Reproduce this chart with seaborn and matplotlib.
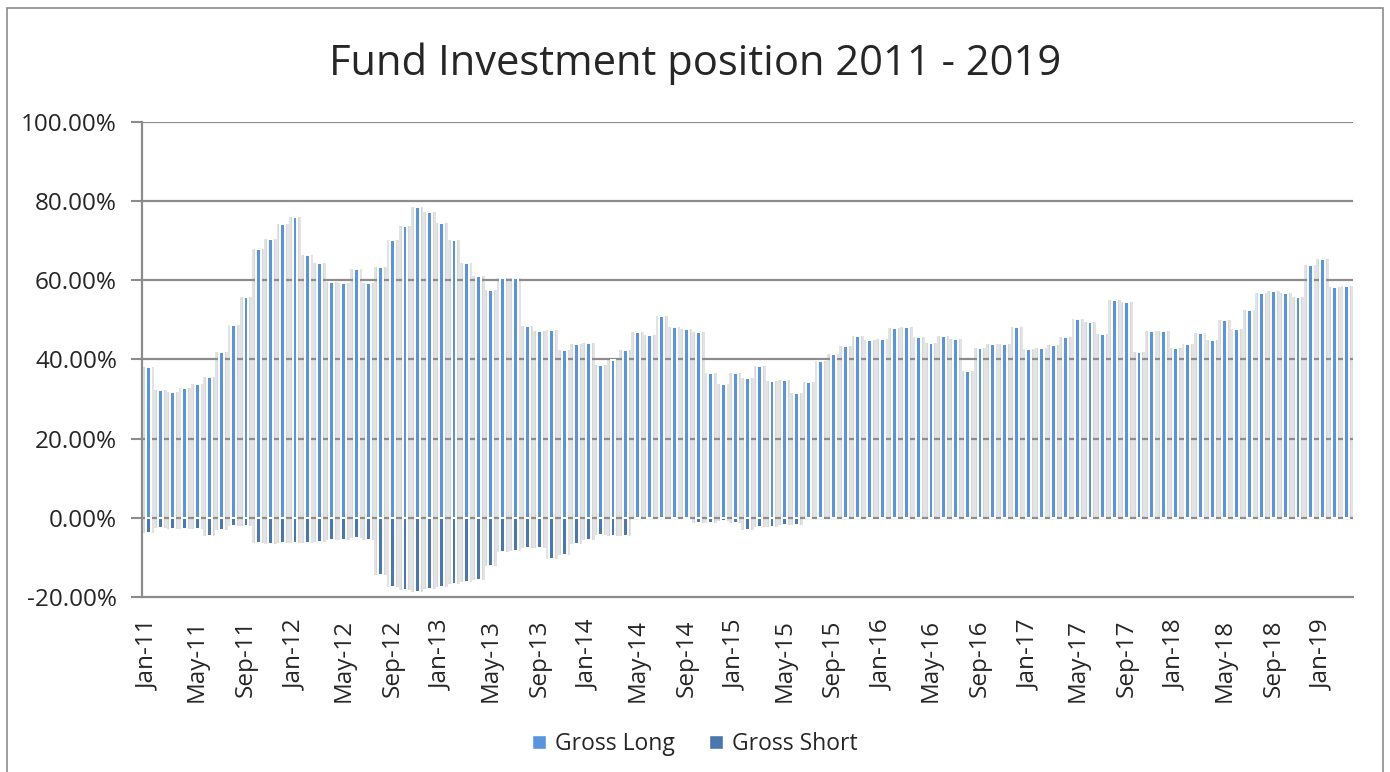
import numpy as np
import pandas as pd
import matplotlib
matplotlib.use('Agg')
import matplotlib.pyplot as plt
import seaborn as sns
from matplotlib.patches import Patch, Rectangle

# monthly data Jan-11 .. Mar-19 (in %)
months = pd.date_range('2011-01-01', '2019-03-01', freq='MS').strftime('%b-%y').tolist()

gross_long = [38.0, 32.3, 31.8, 32.7, 33.9, 35.6, 41.9, 48.7, 55.9, 67.8,
              70.5, 74.1, 75.9, 66.3, 64.4, 59.6, 59.2, 62.8, 59.2, 63.4,
              70.1, 73.6, 78.4, 77.3, 74.6, 70.1, 64.5, 61.0, 57.5, 60.7,
              60.7, 48.5, 47.3, 47.5, 42.5, 43.9, 44.1, 38.7, 39.8, 42.3,
              46.9, 46.3, 51.1, 48.3, 47.8, 46.9, 36.7, 33.8, 36.6, 35.4,
              38.3, 34.5, 34.9, 31.5, 34.3, 39.6, 41.4, 43.5, 45.9, 45.0,
              45.2, 47.9, 48.3, 45.7, 44.1, 46.0, 45.3, 37.2, 42.9, 43.9,
              44.0, 48.2, 42.6, 42.9, 43.7, 45.6, 50.3, 49.4, 46.5, 55.1,
              54.6, 41.8, 47.3, 47.2, 42.8, 43.8, 46.8, 45.0, 50.1, 47.7,
              52.5, 56.9, 57.3, 56.9, 55.9, 63.8, 65.4, 58.2, 58.6]

gross_short = [-3.8, -2.5, -2.8, -2.8, -2.7, -4.7, -3.2, -2.0, -2.1, -6.3,
               -6.6, -6.3, -6.3, -6.3, -6.1, -5.7, -5.6, -5.0, -5.6, -14.4,
               -17.4, -18.2, -18.8, -17.9, -17.5, -16.8, -16.3, -15.8, -12.2, -8.7,
               -8.4, -7.7, -7.7, -10.5, -9.5, -6.6, -5.5, -4.3, -4.5, -4.5,
               0.0, 0.0, 0.0, 0.0, -0.4, -1.3, -1.2, -0.7, -1.3, -3.0,
               -2.2, -2.2, -1.9, -1.8, 0.0, 0.0, 0.0, 0.0, 0.0, 0.0,
               0.0, 0.0, 0.0, 0.0, 0.0, 0.0, 0.0, 0.0, 0.0, 0.0,
               0.0, 0.0, 0.0, 0.0, 0.0, 0.0, 0.0, 0.0, 0.0, 0.0,
               0.0, 0.0, 0.0, 0.0, 0.0, 0.0, 0.0, 0.0, 0.0, 0.0,
               0.0, 0.0, 0.0, 0.0, 0.0, 0.0, 0.0, 0.0, 0.0]

df = pd.DataFrame({'Month': months, 'Gross Long': gross_long, 'Gross Short': gross_short})

long_color = '#5a94dc'
short_color = '#4a77ad'
grid_color = '#8c8c8c'

sns.set_style('white')
plt.rcParams['font.family'] = ['Open Sans', 'DejaVu Sans']

fig = plt.figure(figsize=(13.9, 7.72), dpi=100)
ax = fig.add_axes([0.1022, 0.2267, 0.8712, 0.6153])

# soft shadow behind the bars (two layers, darker near the bar)
for w, c in [(1.0, '#e3e3e3'), (0.7, '#d7d7d7')]:
    for col in ['Gross Long', 'Gross Short']:
        sns.barplot(data=df, x='Month', y=col, color=c, width=w,
                    saturation=1, linewidth=0, ax=ax)
n_shadow = len(ax.containers)

# actual bars
sns.barplot(data=df, x='Month', y='Gross Long', color=long_color, width=0.4,
            saturation=1, edgecolor='white', linewidth=1.4, ax=ax)
sns.barplot(data=df, x='Month', y='Gross Short', color=short_color, width=0.4,
            saturation=1, edgecolor='white', linewidth=1.4, ax=ax)

for k, cont in enumerate(ax.containers):
    for p in cont:
        p.set_zorder(1 if k < n_shadow else 3)

ax.set_ylim(-20, 100)
ax.set_xlim(-0.5, len(months) - 0.5)
yt = np.arange(-20, 101, 20)
ax.set_yticks(yt)
ax.set_yticklabels([f'{v:.2f}%' for v in yt], fontsize=17.5)
for v in yt[1:]:
    ax.axhline(v, color=grid_color, linewidth=1.6, zorder=2)

idx = np.arange(0, len(months), 4)
ax.set_xticks(idx)
ax.set_xticklabels([months[i] for i in idx], rotation=90, fontsize=17.5)
ax.set_xticks(np.arange(-0.5, len(months), 4), minor=True)
ax.tick_params(axis='x', which='major', length=0, pad=16)
ax.tick_params(axis='x', which='minor', length=8, width=1.5, color=grid_color, direction='out')
ax.tick_params(axis='y', length=8, width=1.5, color=grid_color, direction='out', left=True, pad=10)
ax.set_xlabel('')
ax.set_ylabel('')

for s in ['top', 'right']:
    ax.spines[s].set_visible(False)
for s in ['left', 'bottom']:
    ax.spines[s].set_color(grid_color)
    ax.spines[s].set_linewidth(1.6)

fig.text(0.5, 0.918, 'Fund Investment position 2011 - 2019', ha='center', va='center', fontsize=30)

handles = [Patch(facecolor=long_color, label='Gross Long'),
           Patch(facecolor=short_color, label='Gross Short')]
fig.legend(handles=handles, loc='center', bbox_to_anchor=(0.5, 0.036), ncol=2, frameon=False,
           fontsize=16.5, handlelength=0.6, handleheight=0.6, handletextpad=0.4, columnspacing=1.5)

# chart border
fig.patches.append(Rectangle((0.005, -0.01), 0.99, 1.0, transform=fig.transFigure,
                             fill=False, edgecolor='#8c8c8c', linewidth=1.2))

fig.savefig('out.png', dpi=100)
